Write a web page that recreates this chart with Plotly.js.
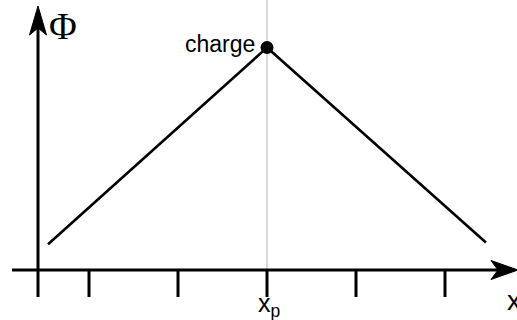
<!DOCTYPE html>
<html><head><meta charset="utf-8">
<script src="https://cdn.plot.ly/plotly-3.0.1.min.js"></script>
<style>html,body{margin:0;padding:0;background:#fff}#chart{width:517px;height:320px}</style>
</head><body><div id="chart"></div>
<script>
// Data (x in tick-spacing units, 0 = charge position x_p)
const tickX = [-2, -1, 0, 1, 2];
const tickLabels = ["", "", "x<sub>p</sub>", "", ""];
const potentialX = [-2.46, 0, 2.46];
const potentialY = [0.29, 2.5, 0.31];
const chargeX = [0];
const chargeY = [2.5];
const yAxisX = -2.573;
const axisLabels = {y: "Φ", x: "x", charge: "charge"};

const U = 89; // pixels per unit
const xRange = [-267 / U, 250 / U];
const yRange = [-50 / U, 270 / U];
const p = v => v / U; // pixel offset -> data units

const xLeft = p(12 - 267), xRight = p(518 - 267);
const yBottom = p(270 - 297), yTop = p(270 - 6);

const traces = [];
// potential
traces.push({x: potentialX, y: potentialY, mode: 'lines', line: {color: '#000', width: 2.6}, hoverinfo: 'skip'});
// ticks
tickX.forEach(t => traces.push({x: [t, t], y: [0, yBottom], mode: 'lines', line: {color: '#000', width: 3}, hoverinfo: 'skip'}));
// charge dot
traces.push({x: chargeX, y: chargeY, mode: 'markers', marker: {color: '#000', size: 13}, hoverinfo: 'skip'});

const shapes = [
  // grey vertical guide at x_p
  {type: 'line', x0: chargeX[0], x1: chargeX[0], y0: 0, y1: yRange[1], line: {color: '#b4b4b4', width: 1}, layer: 'below'},
  // x axis
  {type: 'line', x0: xLeft, x1: xRight - p(12), y0: 0, y1: 0, line: {color: '#000', width: 3}},
  // y axis
  {type: 'line', x0: yAxisX, x1: yAxisX, y0: yBottom, y1: yTop - p(14), line: {color: '#000', width: 3}},
  // y arrowhead
  {type: 'path', fillcolor: '#000', line: {color: '#000', width: 1},
   path: `M ${yAxisX} ${yTop} L ${yAxisX + p(8.5)} ${yTop - p(29)} L ${yAxisX} ${yTop - p(22)} L ${yAxisX - p(8.5)} ${yTop - p(29)} Z`},
  // x arrowhead
  {type: 'path', fillcolor: '#000', line: {color: '#000', width: 1},
   path: `M ${xRight} 0 L ${xRight - p(27)} ${p(9.5)} L ${xRight - p(20)} 0 L ${xRight - p(27)} ${-p(9.5)} Z`}
];

const annotations = [
  {x: yAxisX + p(9), y: yTop + p(3), xanchor: 'left', yanchor: 'top', text: axisLabels.y, showarrow: false,
   font: {family: 'Liberation Serif, serif', size: 38, color: '#000'}},
  {x: chargeX[0] - p(10), y: chargeY[0] + p(4), xanchor: 'right', yanchor: 'middle', text: axisLabels.charge, showarrow: false,
   font: {family: 'Liberation Sans, Arial, sans-serif', size: 23, color: '#000'}},
  {x: xRight - p(13), y: -p(30), xanchor: 'left', yanchor: 'middle', text: axisLabels.x, showarrow: false,
   font: {family: 'Liberation Sans, Arial, sans-serif', size: 28, color: '#000'}}
];
tickX.forEach((t, i) => {
  if (tickLabels[i]) annotations.push({x: t + p(2), y: -p(35), xanchor: 'center', yanchor: 'middle', text: tickLabels[i], showarrow: false,
    font: {family: 'Liberation Sans, Arial, sans-serif', size: 25, color: '#000'}});
});

const layout = {
  width: 517, height: 320,
  margin: {l: 0, r: 0, t: 0, b: 0},
  paper_bgcolor: '#fff', plot_bgcolor: '#fff',
  showlegend: false,
  xaxis: {range: xRange, visible: false, fixedrange: true},
  yaxis: {range: yRange, visible: false, fixedrange: true},
  shapes: shapes,
  annotations: annotations
};
Plotly.newPlot('chart', traces, layout, {staticPlot: true, displayModeBar: false});
</script>
</body></html>
